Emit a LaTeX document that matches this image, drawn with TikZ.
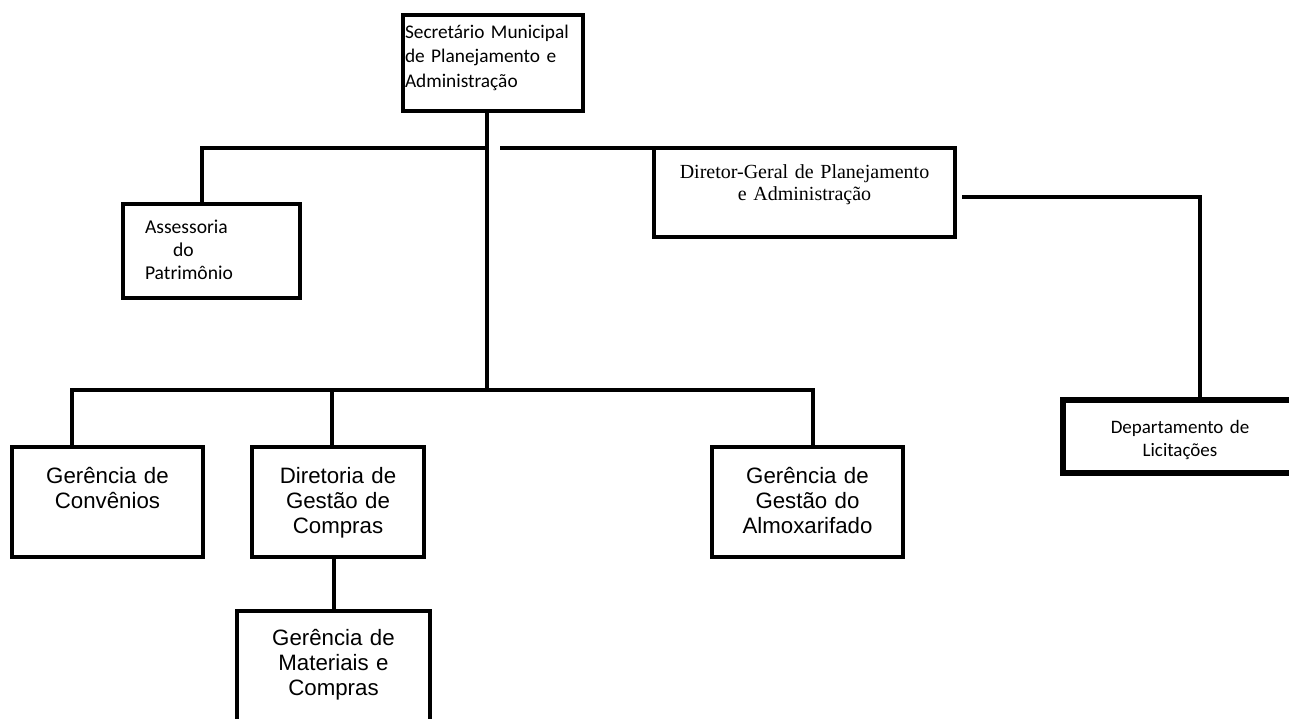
\documentclass[tikz,border=0pt]{standalone}
\usepackage{fontspec}
\usepackage{tikz}
\newfontfamily\calibrifont{Carlito}
\newfontfamily\arialfont{Liberation Sans}
\newfontfamily\timesfont{Liberation Serif}
\tikzstyle{secretary} = [rectangle, 
draw=black, 
line width=3pt,
text width=132pt, 
inner xsep=1.5pt, inner ysep=0pt, outer sep=0pt,
align=left, 
text height=17.25pt, text depth=54.75pt,
font=\calibrifont\fontsize{14.5pt}{18.4pt}\selectfont]
\tikzstyle{advisory} = [rectangle, 
draw=black, 
line width=3pt,
text width=99.75pt, 
inner xsep=16.5pt, inner ysep=0pt, outer sep=0pt,
align=left, 
text height=21.75pt, text depth=48.75pt,
font=\calibrifont\fontsize{14.7pt}{17.6pt}\selectfont]
\tikzstyle{director} = [rectangle, 
draw=black, 
line width=3pt,
text width=225.75pt, 
inner sep=0pt, outer sep=0pt,
align=center, 
text height=22.5pt, text depth=44.25pt,
font=\timesfont\fontsize{15pt}{16.5pt}\selectfont]
\tikzstyle{department} = [rectangle, 
draw=black, 
line width=4pt,
text width=175.5pt, 
inner sep=0pt, outer sep=0pt,
align=center, 
text height=24.75pt, text depth=30pt,
font=\calibrifont\fontsize{14.25pt}{17.5pt}\selectfont]
\tikzstyle{unit} = [rectangle, 
draw=black, 
line width=3pt,
text width=143.25pt, 
inner sep=0pt, outer sep=0pt,
align=center, 
text height=27pt, text depth=55.5pt,
font=\arialfont\fontsize{16.7pt}{18.75pt}\selectfont]
\tikzstyle{link} = [line width=3pt]

\begin{document}
\begin{tikzpicture}[x=0.75pt, y=-0.75pt]
	\useasboundingbox (0,0) rectangle (1289,718);
	
	\node (secr) [secretary, anchor=base] at (493,38) {Secretário Municipal\\de Planejamento e\\Administração};
	\node (asses) [advisory, anchor=base] at (211.5,233) {Assessoria\\\hspace*{21pt}do\\Patrimônio};
	\node (dirgeral) [director, anchor=base] at (804.5,178) {Diretor-Geral de Planejamento\\e Administração};
	\node (deplic) [department, anchor=base] at (1180,433) {Departamento de\\Licitações};
	
	\node (conv) [unit, anchor=base] at (107.5,483) {Gerência de\\Convênios};
	\node (dircomp) [unit, text width=129pt, anchor=base] at (338,483) {Diretoria de\\Gestão de\\Compras};
	\node (almox) [unit, anchor=base] at (807.5,483) {Gerência de\\Gestão do\\Almoxarifado};
	\node (mater) [unit, text width=144.75pt, text height=25.5pt, text depth=57.75pt, anchor=base] at (333.5,645) {Gerência de\\Materiais e\\Compras};
	
	% junctions of the lines
	\coordinate (trunk) at (487,390);
	\coordinate (assjoin) at (202,148);
	\coordinate (gap) at (500,148);
	\coordinate (licturn) at (1200,197);
	\coordinate (busl) at (72,390);
	\coordinate (buscomp) at (332,390);
	\coordinate (busr) at (813,390);
	
	\draw [link] (secr.south -| trunk) -- (trunk);
	\draw [link] (trunk |- assjoin) -- (assjoin) -- (assjoin |- asses.north);
	\draw [link] (gap) -- (dirgeral.north west);
	\draw [link] (dirgeral.east |- licturn) ++(7,0) -- (licturn) -- (licturn |- deplic.north);
	\draw [link] (busl |- conv.north) -- (busl) -- (busr) -- (busr |- almox.north);
	\draw [link] (buscomp) -- (buscomp |- dircomp.north);
	\draw [link] (mater.north |- dircomp.south) -- (mater.north);
	
\end{tikzpicture}
\end{document}
